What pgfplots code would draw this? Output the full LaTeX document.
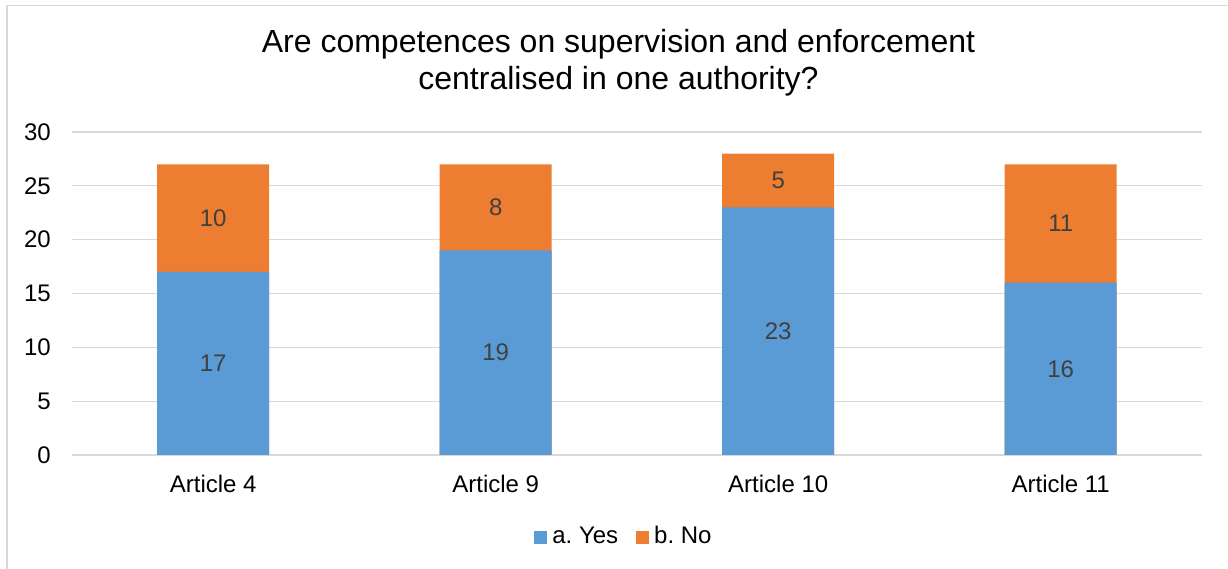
\documentclass[border=0pt]{standalone}
\usepackage{pgfplots}
\pgfplotsset{compat=1.18}
\usepackage{pgfplotstable}
\usepackage{fontspec}
\setmainfont{Liberation Sans}
\frenchspacing

\definecolor{yesblue}{HTML}{5B9BD5}
\definecolor{noorange}{HTML}{ED7D31}
\definecolor{gridgray}{HTML}{D9D9D9}
\definecolor{labelgray}{HTML}{404040}

% answers per article: a. Yes / b. No
\pgfplotstableread{
x yes no
0 17 10
1 19 8
2 23 5
3 16 11
}\answers

\begin{document}
\begin{tikzpicture}[x=1pt,y=1pt]
\begin{axis}[
  scale only axis, width=1130pt, height=323pt,
  xmin=-0.5, xmax=3.5, ymin=0, ymax=30,
  ytick={0,5,...,30},
  xtick={0,1,2,3},
  xticklabels={Article 4, Article 9, Article 10, Article 11},
  axis line style={draw=none},
  major tick length=0pt,
  ymajorgrids, grid style={gridgray, line width=1.3pt},
  tick label style={font=\fontsize{24}{29}\selectfont, inner sep=0pt},
  yticklabel style={anchor=east, xshift=-21pt},
  xticklabel style={anchor=north, yshift=-20pt},
  /pgf/number format/assume math mode=true,
  legend columns=2,
  legend style={at={(axis description cs:0.4876,-0.2508)}, anchor=center,
    draw=none, fill=none, font=\fontsize{24}{29}\selectfont,
    inner sep=0pt, nodes={inner sep=0pt},
    /tikz/every odd column/.append style={column sep=5pt},
    /tikz/every even column/.append style={column sep=18pt}},
  legend image code/.code={\fill[#1] (0pt,-8pt) rectangle (13pt,5pt);},
]
% full column (Yes + No) in orange, Yes part painted over it in blue
\addplot[ybar, bar width=112pt, bar shift=0pt, fill=noorange, draw=none, forget plot]
  table[x=x, y expr=\thisrow{yes}+\thisrow{no}] {\answers};
\addplot[ybar, bar width=112pt, bar shift=0pt, fill=yesblue, draw=none, forget plot]
  table[x=x, y=yes] {\answers};
% value labels in the middle of each segment
\addplot[draw=none, mark=none, forget plot, nodes near coords, point meta=explicit,
  every node near coord/.append style={anchor=center, inner sep=0pt,
    font=\fontsize{24}{29}\selectfont, text=labelgray}]
  table[x=x, y expr=\thisrow{yes}/2, meta=yes] {\answers};
\addplot[draw=none, mark=none, forget plot, nodes near coords, point meta=explicit,
  every node near coord/.append style={anchor=center, inner sep=0pt,
    font=\fontsize{24}{29}\selectfont, text=labelgray}]
  table[x=x, y expr=\thisrow{yes}+\thisrow{no}/2, meta=no] {\answers};
\addlegendimage{fill=yesblue, draw=none}
\addlegendentry{a. Yes}
\addlegendimage{fill=noorange, draw=none}
\addlegendentry{b. No}
\coordinate (O) at (rel axis cs:0,0);
\end{axis}
% page, frame and title, measured from the lower left corner of the plot area
\pgfresetboundingbox
\begin{scope}[shift={(O)}, xshift=-72pt, yshift=-114pt]
\path[use as bounding box] (0,0) rectangle (1228,569);
\draw[gridgray, line width=1.2pt] (7,0) -- (7,563.3) -- (1228,563.3);
\node[align=center, font=\fontsize{32}{37}\selectfont, anchor=center]
  at (618.5,506) {Are competences on supervision and enforcement\\centralised in one authority?};
\end{scope}
\end{tikzpicture}
\end{document}
